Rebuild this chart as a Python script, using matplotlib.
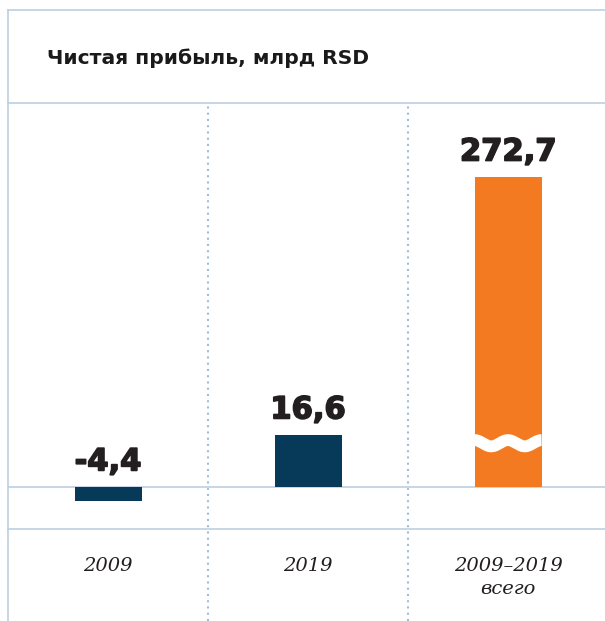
import numpy as np
import matplotlib.pyplot as plt
import matplotlib.patheffects as pe
from matplotlib.lines import Line2D

# данные
categories = ["2009", "2019", "2009–2019\nвсего"]
values = [-4.4, 16.6, 272.7]
labels = ["-4,4", "16,6", "272,7"]
colors = ["#063a58", "#063a58", "#f47a22"]
title = "Чистая прибыль, млрд RSD"

# обрезка высокого столбца (разрыв шкалы)
cap = 99
line_col = "#bccfe2"

fig = plt.figure(figsize=(6.05, 6.21), dpi=100)
W, H = 605, 621
ax = fig.add_axes([8 / W, (H - 529) / H, 597 / W, 426 / H])

x = np.arange(len(values))
shown = [min(v, cap) for v in values]
ax.bar(x, shown, width=0.335, color=colors, zorder=3)

# волнистый разрыв на оранжевом столбце
for i, v in enumerate(values):
    if v > cap:
        t = np.linspace(0, 1, 200)
        xx = i - 0.1675 + 0.335 * t
        yy = 14.0 + 1.0 * np.cos(4 * np.pi * t)
        ax.plot(xx, yy, color="white", lw=8.5, zorder=4, solid_capstyle="butt")

for i, (v, s) in enumerate(zip(shown, labels)):
    ax.text(i, max(v, 0) + 3.4, s, ha="center", va="bottom", fontsize=22,
            fontweight="heavy", color="#231f20", family="DejaVu Sans",
            path_effects=[pe.withStroke(linewidth=1.2, foreground="#231f20")])

ax.set_xlim(-0.5, 2.485)
ax.set_ylim(-13.4, 122.7)
ax.axhline(0, color=line_col, lw=1.2, zorder=2)

for xv in [0.5, 1.5]:
    ax.axvline(xv, ymin=-0.216, ymax=1, color="#9dbddb", lw=1.5, ls=(0, (1, 2)),
               clip_on=False, zorder=1)

for s in ["left", "right"]:
    ax.spines[s].set_visible(False)
ax.spines["top"].set_color(line_col)
ax.spines["bottom"].set_color(line_col)
ax.spines["top"].set_linewidth(1.2)
ax.spines["bottom"].set_linewidth(1.2)

ax.set_yticks([])
ax.set_xticks(x)
ax.set_xticklabels(categories, fontsize=14, style="italic", family="DejaVu Serif",
                   color="#231f20", linespacing=1.35)
ax.tick_params(axis="x", length=0, pad=20)

# рамка
fig.add_artist(Line2D([8 / W, 1], [1 - 10 / H, 1 - 10 / H], color=line_col, lw=1.2))
fig.add_artist(Line2D([8 / W, 8 / W], [0, 1 - 10 / H], color=line_col, lw=1.2))

fig.text(47 / W, 1 - 58 / H, title, fontsize=14.6, fontweight="bold",
         color="#1a1a1a", va="center", ha="left")

fig.savefig("out.png", dpi=100)
